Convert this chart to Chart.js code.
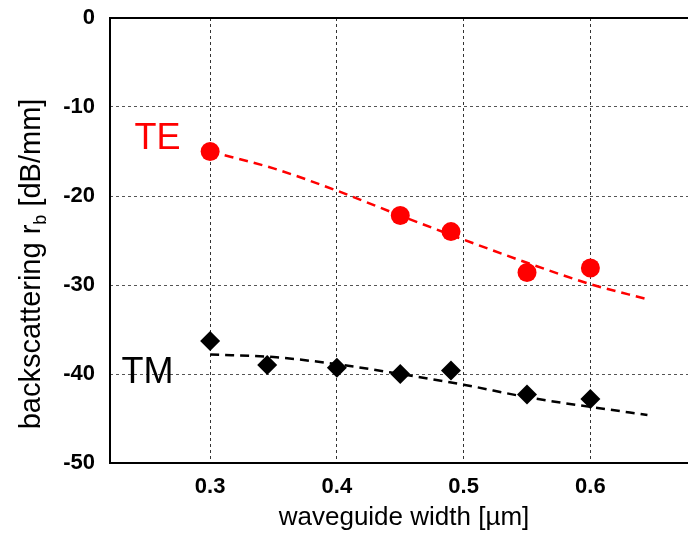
<!DOCTYPE html>
<html>
<head>
<meta charset="utf-8">
<script src="https://cdn.jsdelivr.net/npm/chart.js@4.4.1/dist/chart.umd.min.js"></script>
<style>
  html, body { margin: 0; padding: 0; background: #fff; }
  #wrap { width: 688px; height: 533px; }
</style>
</head>
<body>
<div id="wrap"><canvas id="chart" width="688" height="533"></canvas></div>
<script>
// measured backscattering, TE mode (red circles)
const teWidth = [0.30, 0.45, 0.49, 0.55, 0.60]
const teValue = [-15.0, -22.2, -24.0, -28.6, -28.1]

// measured backscattering, TM mode (black diamonds)
const tmWidth = [0.30, 0.345, 0.40, 0.45, 0.49, 0.55, 0.60]
const tmValue = [-36.3, -39.0, -39.3, -40.0, -39.6, -42.3, -42.8]

// simulated curves (dashed)
const simWidth = [0.30, 0.35, 0.40, 0.45, 0.50, 0.55, 0.60, 0.645]
const teSim = [-15.0, -16.9, -19.4, -22.2, -24.9, -27.5, -29.9, -31.6]
const tmSim = [-37.8, -38.1, -38.9, -40.0, -41.2, -42.6, -43.7, -44.6]

const xTicks = [0.3, 0.4, 0.5, 0.6]
const yTicks = [0, -10, -20, -30, -40, -50]

const FONT = '"Liberation Sans", Arial, sans-serif'

const pts = (xs, ys) => xs.map((x, i) => ({ x: x, y: ys[i] }))

// frame, mode labels and axis titles
const decorPlugin = {
  id: 'decor',
  afterDatasetsDraw(chart) {
    const { ctx, chartArea: a, scales } = chart
    ctx.save()
    ctx.strokeStyle = '#000'
    ctx.lineWidth = 2
    ctx.beginPath()
    ctx.moveTo(a.right + 2, a.top)
    ctx.lineTo(a.left, a.top)
    ctx.lineTo(a.left, a.bottom)
    ctx.lineTo(a.right + 2, a.bottom)
    ctx.stroke()

    ctx.font = '36px ' + FONT
    ctx.textAlign = 'center'
    ctx.textBaseline = 'middle'
    ctx.fillStyle = '#ff0000'
    ctx.fillText('TE', scales.x.getPixelForValue(0.2585), scales.y.getPixelForValue(-13.6))
    ctx.fillStyle = '#000'
    ctx.fillText('TM', scales.x.getPixelForValue(0.2505), scales.y.getPixelForValue(-39.9))

    // x title
    ctx.font = '26px ' + FONT
    ctx.textBaseline = 'alphabetic'
    ctx.fillText('waveguide width [\u00b5m]', 404, 525)

    // y title with subscript b
    const main = 'backscattering r'
    const tail = ' [dB/mm]'
    const big = '29px ' + FONT
    const small = '18px ' + FONT
    ctx.font = big
    const w1 = ctx.measureText(main).width
    const w3 = ctx.measureText(tail).width
    ctx.font = small
    const w2 = ctx.measureText('b').width
    const total = w1 + w2 + w3
    ctx.translate(40, 264)
    ctx.rotate(-Math.PI / 2)
    ctx.textAlign = 'left'
    const x0 = -total / 2
    ctx.font = big
    ctx.fillText(main, x0, 0)
    ctx.font = small
    ctx.fillText('b', x0 + w1, 6)
    ctx.font = big
    ctx.fillText(tail, x0 + w1 + w2, 0)
    ctx.restore()
  }
}

new Chart(document.getElementById('chart'), {
  type: 'scatter',
  data: {
    datasets: [
      {
        label: 'TE sim',
        type: 'line',
        data: pts(simWidth, teSim),
        borderColor: '#ff0000',
        borderWidth: 2.5,
        borderDash: [9, 6],
        pointRadius: 0,
        tension: 0.4,
        cubicInterpolationMode: 'monotone',
        fill: false
      },
      {
        label: 'TM sim',
        type: 'line',
        data: pts(simWidth, tmSim),
        borderColor: '#000',
        borderWidth: 2.5,
        borderDash: [9, 6],
        pointRadius: 0,
        tension: 0.4,
        cubicInterpolationMode: 'monotone',
        fill: false
      },
      {
        label: 'TE',
        data: pts(teWidth, teValue),
        pointStyle: 'circle',
        pointRadius: 9.5,
        pointBackgroundColor: '#ff0000',
        pointBorderColor: '#ff0000',
        pointBorderWidth: 0
      },
      {
        label: 'TM',
        data: pts(tmWidth, tmValue),
        pointStyle: 'rectRot',
        pointRadius: 10,
        pointBackgroundColor: '#000',
        pointBorderColor: '#000',
        pointBorderWidth: 0
      }
    ]
  },
  options: {
    responsive: false,
    animation: false,
    layout: { autoPadding: false, padding: { top: 18, right: 0, left: 0, bottom: 0 } },
    plugins: {
      legend: { display: false },
      tooltip: { enabled: false }
    },
    scales: {
      x: {
        type: 'linear',
        min: 0.221,
        max: 0.677,
        afterBuildTicks: (scale) => { scale.ticks = xTicks.map(v => ({ value: v })) },
        afterFit: (scale) => {
          scale.height = 70
          scale.paddingLeft = 0
          scale.paddingRight = 0
        },
        grid: { color: '#333', lineWidth: 1, drawTicks: false },
        border: { display: false, dash: [3, 3] },
        ticks: {
          padding: 11,
          color: '#000',
          font: { family: FONT, size: 22, weight: 'bold' },
          callback: (v) => v.toFixed(1)
        }
      },
      y: {
        min: -50,
        max: 0,
        afterBuildTicks: (scale) => { scale.ticks = yTicks.map(v => ({ value: v })) },
        afterFit: (scale) => {
          scale.width = 110
          scale.paddingTop = 0
          scale.paddingBottom = 0
        },
        grid: { color: '#555', lineWidth: 1, drawTicks: false },
        border: { display: false, dash: [3, 3] },
        ticks: {
          padding: 15,
          color: '#000',
          font: { family: FONT, size: 22, weight: 'bold' }
        }
      }
    }
  },
  plugins: [decorPlugin]
})
</script>
</body>
</html>
